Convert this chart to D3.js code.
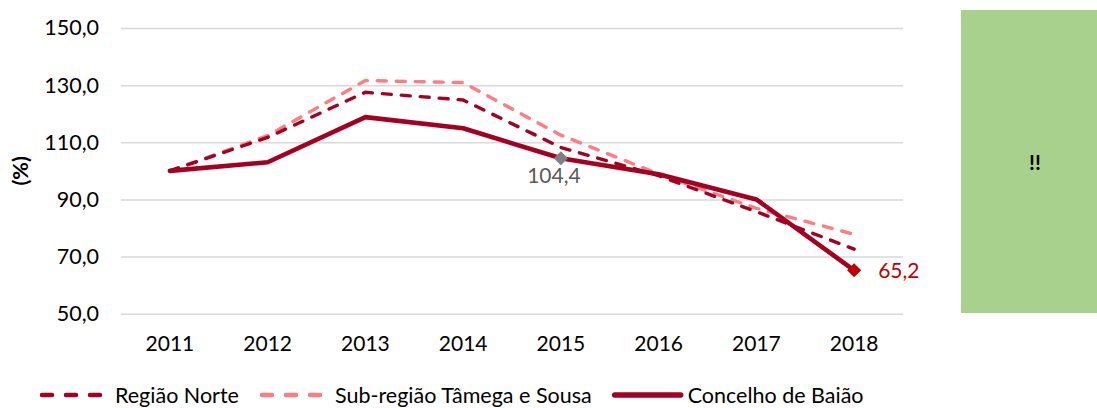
<!DOCTYPE html>
<html><head><meta charset="utf-8">
<script src="https://cdn.jsdelivr.net/npm/d3@7"></script>
<style>
body{margin:0;background:#fff;}
svg{display:block;font-family:Lato,"Open Sans",sans-serif;}
</style></head>
<body><svg id="c" width="1097" height="408"></svg>
<script>
const years = ["2011","2012","2013","2014","2015","2016","2017","2018"];
const regiaoNorte = [100.0,111.7,127.5,124.8,108.2,98.3,85.7,72.6];
const tamegaSousa = [100.0,112.3,131.6,130.9,112.5,98.9,86.9,77.8];
const baiao = [100.0,103.0,118.8,114.9,104.4,98.8,90.0,65.2];
const yTicks = [50,70,90,110,130,150];
const seriesNames = ["Região Norte","Sub-região Tâmega e Sousa","Concelho de Baião"];

(function(){
const svg = d3.select("#c");
const pL = 121, pR = 903, pT = 28, pB = 313.7;
const x = d3.scaleBand().domain(years).range([pL,pR]).padding(0);
const y = d3.scaleLinear().domain([50,150]).range([pB,pT]);
const fmt = v => d3.format(".1f")(v).replace(".",",");

const ya = svg.append("g").attr("transform",`translate(${pL},0)`)
  .call(d3.axisLeft(y).tickValues(yTicks).tickSize(-(pR-pL)).tickFormat(fmt).tickPadding(22));
ya.select(".domain").remove();
ya.selectAll(".tick line").attr("stroke","#d9d9d9").attr("stroke-width",1.5);
ya.selectAll(".tick text").attr("font-size",21.5).attr("fill","#000").attr("font-family","Lato");

const xa = svg.append("g").attr("transform",`translate(0,${pB})`)
  .call(d3.axisBottom(x).tickSize(0).tickPadding(22));
xa.select(".domain").remove();
xa.selectAll(".tick text").attr("font-size",21).attr("fill","#000").attr("font-family","Lato");

svg.append("text").attr("transform",`translate(28,${(pT+pB)/2}) rotate(-90)`)
  .attr("text-anchor","middle").attr("font-size",21.5).attr("font-weight","bold").text("(%)");

const line = d3.line().x((d,i)=>x(years[i])+x.bandwidth()/2).y(d=>y(d));
const styles = [
  {data:regiaoNorte, color:"#a50021", width:3.4, dash:"9,10"},
  {data:tamegaSousa, color:"#ff7c80", width:3.4, dash:"9,10"},
  {data:baiao, color:"#a50021", width:4.6, dash:null}
];
[1,0,2].forEach(k=>{
  const s = styles[k];
  svg.append("path").datum(s.data).attr("d",line).attr("fill","none")
    .attr("stroke",s.color).attr("stroke-width",s.width)
    .attr("stroke-linecap","round").attr("stroke-linejoin","round")
    .attr("stroke-dasharray",s.dash);
});

function marker(i, color){
  svg.append("rect").attr("x",-5).attr("y",-5).attr("width",10).attr("height",10)
    .attr("fill",color)
    .attr("transform",`translate(${x(years[i])+x.bandwidth()/2},${y(baiao[i])}) rotate(45)`);
}
marker(4,"#7f7f7f");
marker(7,"#c00000");
svg.append("text").attr("x",x(years[4])+x.bandwidth()/2-7).attr("y",y(baiao[4])+25)
  .attr("text-anchor","middle").attr("font-size",21).attr("fill","#595959").text(fmt(baiao[4]));
svg.append("text").attr("x",x(years[7])+x.bandwidth()/2+24).attr("y",y(baiao[7])+8)
  .attr("font-size",21).attr("fill","#c00000").text(fmt(baiao[7]));

svg.append("rect").attr("x",961).attr("y",10).attr("width",136).attr("height",303).attr("fill","#a9d18e");
svg.append("text").attr("x",1035).attr("y",170).attr("text-anchor","middle")
  .attr("font-size",21).attr("font-weight","bold").text("!!");

const lg = svg.append("g").attr("transform","translate(39,395)");
let cx = 0;
seriesNames.forEach((n,k)=>{
  const s = styles[k];
  lg.append("line").attr("x1",cx+3).attr("x2",cx+69).attr("y1",0).attr("y2",0)
    .attr("stroke",s.color).attr("stroke-width",s.dash?4.5:5.5)
    .attr("stroke-linecap","round").attr("stroke-dasharray",s.dash?"10,14":null);
  const t = lg.append("text").attr("x",cx+76).attr("y",7.5).attr("font-size",21.5).text(n);
  cx += 76 + t.node().getComputedTextLength() + 20;
});
})();
</script></body></html>
